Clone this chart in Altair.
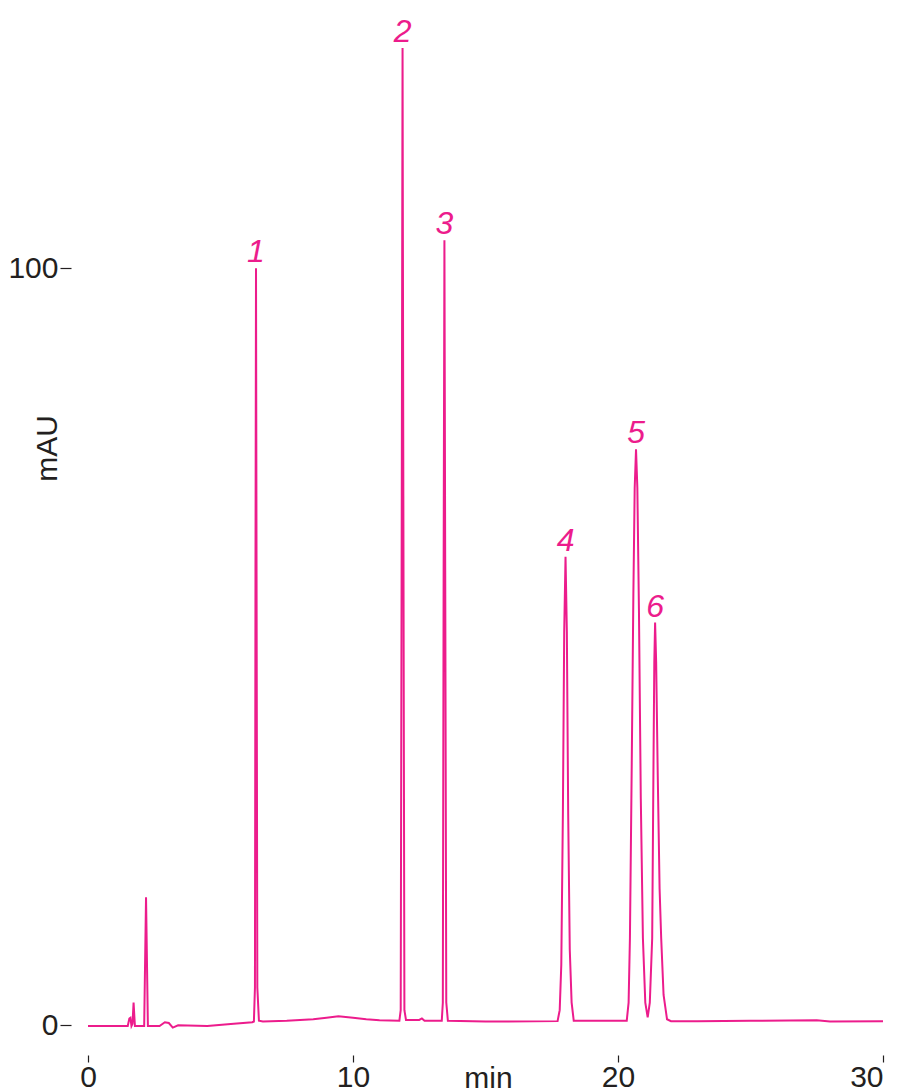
import altair as alt
import pandas as pd

PINK = "#EC1C8C"
FONT = "Liberation Sans"

# Chromatogram trace (time in min, signal in mAU)
time_min = [
    0.00, 1.50, 1.56, 1.60, 1.64, 1.68, 1.72, 1.77, 2.12, 2.19, 2.26, 2.70, 2.90, 3.05, 3.20, 3.40, 4.50, 5.50, 6.20,
    6.26, 6.30, 6.32, 6.34, 6.36, 6.39, 6.45,
    6.60, 7.50, 8.50, 9.00, 9.45, 10.00, 10.50, 11.00, 11.75,
    11.80, 11.84, 11.87, 11.90, 11.94, 12.00,
    12.50, 12.60, 12.70, 13.35,
    13.39, 13.42, 13.45, 13.48, 13.52, 13.58,
    15.00, 17.72,
    17.80, 17.86, 17.92, 17.97, 18.02, 18.07, 18.12, 18.18, 18.25, 18.33,
    20.33, 20.40, 20.45, 20.52, 20.58, 20.63, 20.68, 20.73, 20.79, 20.86, 20.94, 21.03, 21.12,
    21.20, 21.29, 21.34, 21.37, 21.40, 21.44, 21.50, 21.57, 21.63, 21.72, 21.85, 22.00,
    23.00, 25.00, 27.50, 28.00, 30.00,
]
signal_mau = [
    -0.1, -0.1, 0.9, 1.0, -0.1, 0.2, 3.0, -0.1, -0.1, 16.9, -0.1, -0.1, 0.4, 0.3, -0.3, 0.0, -0.1, 0.2, 0.4,
    0.5, 5.0, 60.0, 100.0, 60.0, 5.0, 0.6,
    0.5, 0.6, 0.8, 1.0, 1.2, 1.0, 0.8, 0.65, 0.6,
    2.0, 70.0, 129.1, 70.0, 2.0, 0.7,
    0.7, 0.9, 0.6, 0.6,
    3.0, 60.0, 103.7, 60.0, 3.0, 0.6,
    0.5, 0.55,
    2.0, 8.0, 28.0, 52.0, 61.9, 52.0, 28.0, 10.0, 3.0, 0.6,
    0.6, 3.0, 11.5, 35.0, 57.0, 71.0, 76.1, 71.0, 55.0, 30.0, 11.5, 3.0, 1.05,
    3.0, 11.5, 35.0, 48.0, 53.2, 48.0, 33.0, 18.0, 11.5, 4.0, 0.8, 0.55,
    0.55, 0.6, 0.65, 0.5, 0.55,
]

# Axis tick values
x_ticks = [0, 10, 20, 30]
y_ticks = [0, 100]

# Peak labels
peak_labels = ["1", "2", "3", "4", "5", "6"]
peak_times = [6.34, 11.87, 13.45, 18.02, 20.68, 21.40]
peak_heights = [100.0, 129.1, 103.7, 61.9, 76.1, 53.2]

trace = pd.DataFrame({"t": time_min, "s": signal_mau})
peaks = pd.DataFrame({"label": peak_labels, "t": peak_times, "s": peak_heights})

x_scale = alt.Scale(domain=[0, 30], nice=False, zero=False)
y_scale = alt.Scale(domain=[-3, 132], nice=False, zero=False)

x_axis = alt.Axis(
    values=x_ticks, domain=False, grid=False, tickSize=7, offset=7,
    tickColor="#231F20", tickWidth=1.2, labelFontSize=30, labelFont=FONT,
    labelColor="#231F20", labelPadding=0, labelFlush=False,
    labelAlign=alt.condition("datum.value == 30", alt.value("right"), alt.value("center")),
    title="min", titleFont=FONT, titleFontSize=30, titleFontWeight="normal",
    titleColor="#231F20", titleX=400, titleY=32, titleBaseline="alphabetic",
    titleAlign="center",
)
y_axis = alt.Axis(
    values=y_ticks, domain=False, grid=False, tickSize=11, offset=17,
    tickColor="#231F20", tickWidth=1.2, labelFontSize=30, labelFont=FONT,
    labelColor="#231F20", labelPadding=2, labelFlush=False,
    title="mAU", titleFont=FONT, titleFontSize=30, titleFontWeight="normal",
    titleColor="#231F20", titleAngle=-90, titleX=-24, titleY=422,
    titleAlign="center", titleBaseline="middle",
)

line = alt.Chart(trace).mark_line(color=PINK, strokeWidth=2, clip=False).encode(
    x=alt.X("t:Q", scale=x_scale, axis=x_axis),
    y=alt.Y("s:Q", scale=y_scale, axis=y_axis),
    order="t:Q",
)

labels = alt.Chart(peaks).mark_text(
    color=PINK, font=FONT, fontSize=32, fontStyle="italic",
    baseline="alphabetic", align="center", dy=-6,
).encode(
    x=alt.X("t:Q", scale=x_scale),
    y=alt.Y("s:Q", scale=y_scale),
    text="label:N",
)

chart = alt.layer(line, labels).properties(
    width=795, height=1022,
    autosize=alt.AutoSizeParams(type="none"),
    padding={"left": 80, "top": 18, "right": 6, "bottom": 41},
).configure_view(strokeWidth=0, stroke=None)

chart.save("out.html", embed_options={"renderer": "svg", "actions": False})
